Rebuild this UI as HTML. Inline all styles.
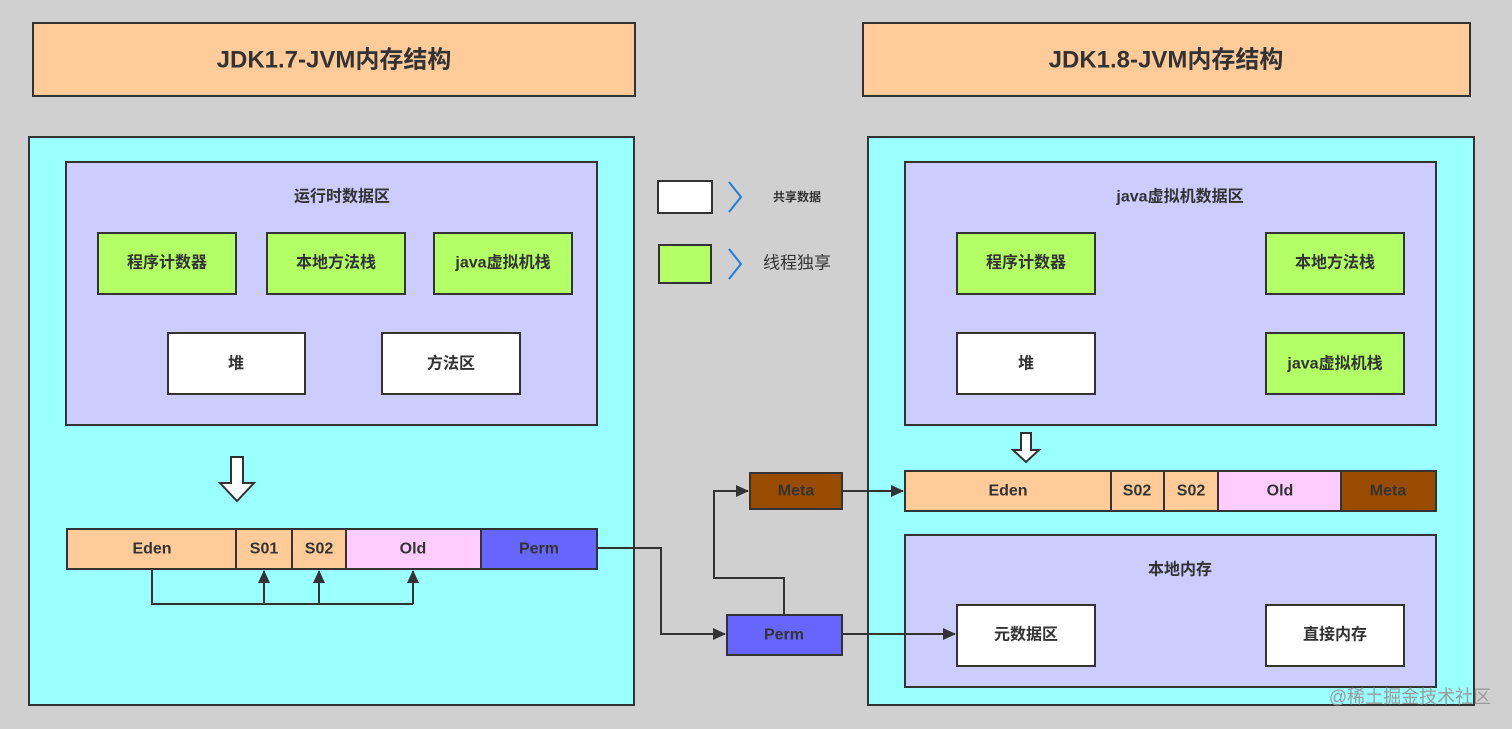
<!DOCTYPE html>
<html><head><meta charset="utf-8"><style>
html,body{margin:0;padding:0;background:#d0d0d0;}
svg{display:block}
text{font-family:"Liberation Sans","Noto Sans CJK SC",sans-serif;font-weight:bold;fill:#333;text-anchor:middle;dominant-baseline:central;}
</style></head><body>
<svg width="1512" height="729" viewBox="0 0 1512 729" xmlns="http://www.w3.org/2000/svg">
<defs><marker id="ah" markerWidth="13" markerHeight="12" refX="12" refY="6" orient="auto" markerUnits="userSpaceOnUse"><path d="M0,0 L13,6 L0,12 z" fill="#333"/></marker></defs>
<rect width="1512" height="729" fill="#d0d0d0"/>
<g stroke="#333" stroke-width="2">
<rect x="33" y="23" width="602" height="73" fill="#ffcc99"/>
<rect x="863" y="23" width="607" height="73" fill="#ffcc99"/>
<rect x="29" y="137" width="605" height="568" fill="#99ffff"/>
<rect x="868" y="137" width="606" height="568" fill="#99ffff"/>
<rect x="66" y="162" width="531" height="263" fill="#ccccff"/>
<rect x="905" y="162" width="531" height="263" fill="#ccccff"/>
<rect x="905" y="535" width="531" height="152" fill="#ccccff"/>
<rect x="98" y="233" width="138" height="61" fill="#b3ff66"/>
<rect x="267" y="233" width="138" height="61" fill="#b3ff66"/>
<rect x="434" y="233" width="138" height="61" fill="#b3ff66"/>
<rect x="168" y="333" width="137" height="61" fill="#fff"/>
<rect x="382" y="333" width="138" height="61" fill="#fff"/>
<rect x="957" y="233" width="138" height="61" fill="#b3ff66"/>
<rect x="1266" y="233" width="138" height="61" fill="#b3ff66"/>
<rect x="1266" y="333" width="138" height="61" fill="#b3ff66"/>
<rect x="957" y="333" width="138" height="61" fill="#fff"/>
<rect x="957" y="605" width="138" height="61" fill="#fff"/>
<rect x="1266" y="605" width="138" height="61" fill="#fff"/>
<rect x="67" y="529" width="169" height="40" fill="#ffcc99"/>
<rect x="236" y="529" width="56" height="40" fill="#ffcc99"/>
<rect x="292" y="529" width="54" height="40" fill="#ffcc99"/>
<rect x="346" y="529" width="135" height="40" fill="#ffccff"/>
<rect x="481" y="529" width="116" height="40" fill="#6666ff"/>
<rect x="905" y="471" width="206" height="40" fill="#ffcc99"/>
<rect x="1111" y="471" width="53" height="40" fill="#ffcc99"/>
<rect x="1164" y="471" width="54" height="40" fill="#ffcc99"/>
<rect x="1218" y="471" width="123" height="40" fill="#ffccff"/>
<rect x="1341" y="471" width="95" height="40" fill="#994c00"/>
<rect x="727" y="615" width="115" height="40" fill="#6666ff"/>
<rect x="750" y="473" width="92" height="36" fill="#994c00"/>
<rect x="658" y="181" width="54" height="32" fill="#fff"/>
<rect x="659" y="245" width="52" height="38" fill="#b3ff66"/>
<path d="M231,457 h12 v26 h11 l-17,18 l-17,-18 h11 z" fill="#fff"/>
<path d="M1021,433 h10 v17 h8 l-13,12 l-13,-12 h8 z" fill="#fff"/>
</g>
<g stroke="#333" stroke-width="2" fill="none">
<path d="M152,569 V604 H413"/>
<path d="M264,604 V571" marker-end="url(#ah)"/>
<path d="M319,604 V571" marker-end="url(#ah)"/>
<path d="M413,604 V571" marker-end="url(#ah)"/>
<path d="M597,548 H661 V634 H725" marker-end="url(#ah)"/>
<path d="M784,615 V578 H714 V491 H748" marker-end="url(#ah)"/>
<path d="M842,491 H903" marker-end="url(#ah)"/>
<path d="M842,634 H955" marker-end="url(#ah)"/>
</g>
<g stroke="#1e7be0" stroke-width="2" fill="none">
<path d="M729,182 l12,15 l-12,15"/>
<path d="M729,249 l12,15 l-12,15"/>
</g>
<text x="334" y="60" font-size="24">JDK1.7-JVM内存结构</text>
<text x="1166" y="60" font-size="24">JDK1.8-JVM内存结构</text>
<g font-size="16">
<text x="342" y="197">运行时数据区</text>
<text x="1180" y="197">java虚拟机数据区</text>
<text x="1180" y="570">本地内存</text>
<text x="167" y="263">程序计数器</text>
<text x="336" y="263">本地方法栈</text>
<text x="503" y="263">java虚拟机栈</text>
<text x="236" y="364">堆</text>
<text x="451" y="364">方法区</text>
<text x="1026" y="263">程序计数器</text>
<text x="1335" y="263">本地方法栈</text>
<text x="1335" y="364">java虚拟机栈</text>
<text x="1026" y="364">堆</text>
<text x="1026" y="635">元数据区</text>
<text x="1335" y="635">直接内存</text>
<text x="152" y="549">Eden</text>
<text x="264" y="549">S01</text>
<text x="319" y="549">S02</text>
<text x="413" y="549">Old</text>
<text x="539" y="549">Perm</text>
<text x="1008" y="491">Eden</text>
<text x="1137" y="491">S02</text>
<text x="1191" y="491">S02</text>
<text x="1280" y="491">Old</text>
<text x="1388" y="491">Meta</text>
<text x="784" y="635">Perm</text>
<text x="796" y="491">Meta</text>
</g>
<text x="797" y="197" font-size="12">共享数据</text>
<text x="797" y="263" font-size="17" style="font-weight:normal">线程独享</text>
<text x="1410" y="697" font-size="18" style="font-weight:normal;fill:#9a9a9a">@稀土掘金技术社区</text>
</svg>
</body></html>
